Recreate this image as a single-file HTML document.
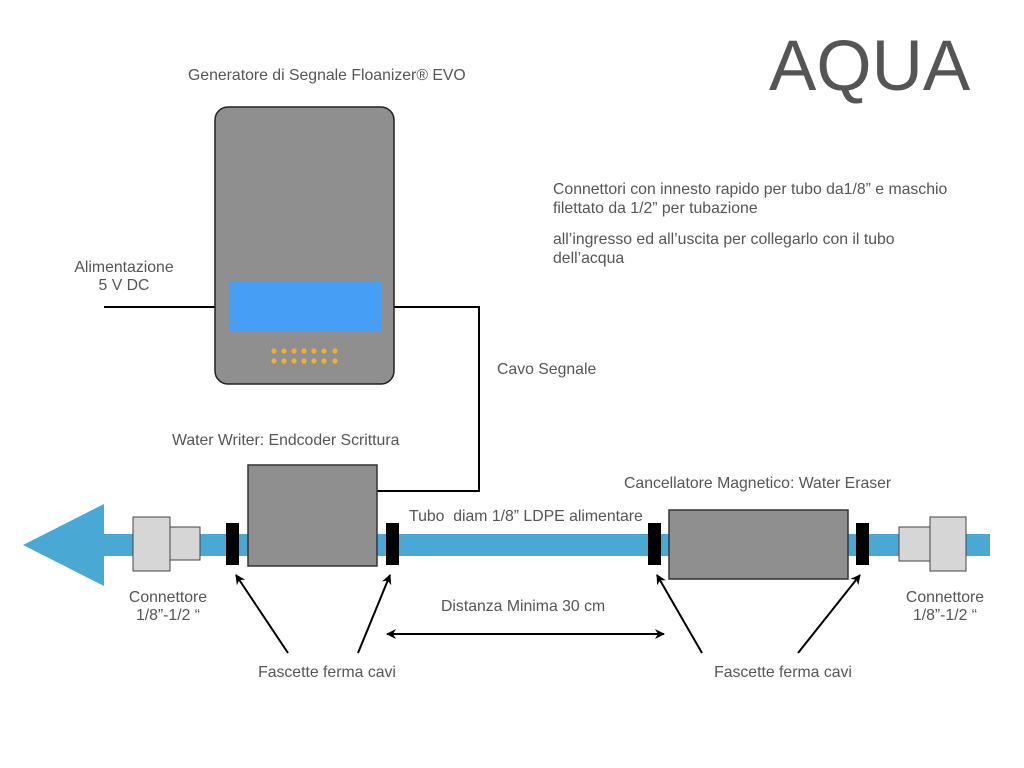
<!DOCTYPE html>
<html><head><meta charset="utf-8"><style>
html,body{margin:0;padding:0;background:#fff}
svg{display:block}
text{font-family:"Liberation Sans",sans-serif;fill:#555;font-size:15.8px}
</style></head><body>
<svg width="1024" height="768" viewBox="0 0 1024 768">
<defs>
<marker id="ah" markerWidth="10" markerHeight="10" refX="9" refY="5" orient="auto" markerUnits="userSpaceOnUse">
<path d="M0,0 L10,5 L0,10 L3,5 Z" fill="#000"/></marker>
</defs>
<text x="769" y="90" style="font-size:71px;fill:#555">AQUA</text>
<text x="188" y="80">Generatore di Segnale Floanizer® EVO</text>
<text x="553" y="194">Connettori con innesto rapido per tubo da1/8” e maschio</text>
<text x="553" y="213">filettato da 1/2” per tubazione</text>
<text x="553" y="244">all’ingresso ed all’uscita per collegarlo con il tubo</text>
<text x="553" y="263">dell’acqua</text>
<text x="124" y="272" text-anchor="middle">Alimentazione</text>
<text x="124" y="290" text-anchor="middle">5 V DC</text>
<text x="497" y="374">Cavo Segnale</text>
<text x="172" y="445">Water Writer: Endcoder Scrittura</text>
<text x="624" y="488">Cancellatore Magnetico: Water Eraser</text>
<text x="409" y="521">Tubo&#160; diam 1/8” LDPE alimentare</text>
<text x="441" y="611">Distanza Minima 30 cm</text>
<text x="168" y="602" text-anchor="middle">Connettore</text>
<text x="168" y="620" text-anchor="middle">1/8”-1/2 “</text>
<text x="945" y="602" text-anchor="middle">Connettore</text>
<text x="945" y="620" text-anchor="middle">1/8”-1/2 “</text>
<text x="327" y="677" text-anchor="middle">Fascette ferma cavi</text>
<text x="783" y="677" text-anchor="middle">Fascette ferma cavi</text>

<path d="M104,307 H215" stroke="#000" stroke-width="2" fill="none"/>
<path d="M394,307 H479 V491 H377" stroke="#000" stroke-width="2" fill="none"/>

<rect x="215" y="107" width="179" height="277" rx="13" fill="#8f8f8f" stroke="#222" stroke-width="1.5"/>
<rect x="229" y="282" width="152" height="49" fill="#479ff5"/>
<g fill="#f0b030">
<circle cx="274" cy="351" r="2.6"/><circle cx="284" cy="351" r="2.6"/><circle cx="294" cy="351" r="2.6"/><circle cx="304" cy="351" r="2.6"/><circle cx="314" cy="351" r="2.6"/><circle cx="324" cy="351" r="2.6"/><circle cx="335" cy="351" r="2.6"/>
<circle cx="274" cy="361" r="2.6"/><circle cx="284" cy="361" r="2.6"/><circle cx="294" cy="361" r="2.6"/><circle cx="304" cy="361" r="2.6"/><circle cx="314" cy="361" r="2.6"/><circle cx="324" cy="361" r="2.6"/><circle cx="335" cy="361" r="2.6"/>
</g>

<rect x="100" y="534" width="890" height="22" fill="#4aa8d4"/>
<polygon points="23,545 104,504 104,586" fill="#4aa8d4"/>

<rect x="133" y="517" width="37" height="54" fill="#d6d6d6" stroke="#444" stroke-width="1"/>
<rect x="170" y="527" width="30" height="33" fill="#d6d6d6" stroke="#444" stroke-width="1"/>
<rect x="899" y="527" width="31" height="34" fill="#d6d6d6" stroke="#444" stroke-width="1"/>
<rect x="930" y="517" width="36" height="54" fill="#d6d6d6" stroke="#444" stroke-width="1"/>

<rect x="226" y="523" width="13" height="42" fill="#000"/>
<rect x="386" y="523" width="13" height="42" fill="#000"/>
<rect x="648" y="523" width="13" height="42" fill="#000"/>
<rect x="856" y="523" width="13" height="42" fill="#000"/>

<rect x="248" y="465" width="129" height="101" fill="#8f8f8f" stroke="#333" stroke-width="1.5"/>
<rect x="669" y="510" width="179" height="69" fill="#8f8f8f" stroke="#333" stroke-width="1.5"/>

<g stroke="#000" stroke-width="2" fill="none" marker-end="url(#ah)">
<line x1="288" y1="653" x2="236" y2="575"/>
<line x1="358" y1="653" x2="390" y2="575"/>
<line x1="702" y1="653" x2="657" y2="575"/>
<line x1="798" y1="653" x2="860" y2="575"/>
<line x1="520" y1="634" x2="664" y2="634"/>
<line x1="520" y1="634" x2="387" y2="634"/>
</g>
</svg>
</body></html>
